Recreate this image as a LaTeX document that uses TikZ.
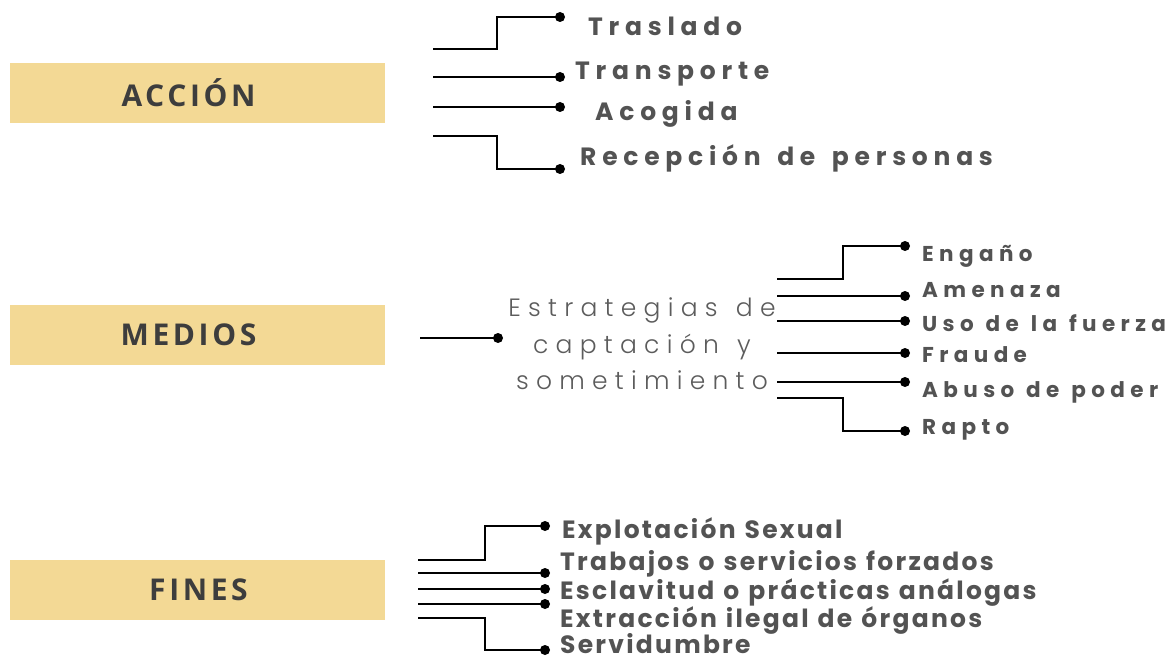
\documentclass[tikz,border=0pt]{standalone}
\usepackage{fontspec}
\setmainfont{Open Sans}
\newfontfamily\hdrfont[LetterSpace=12]{Open Sans}
\newfontfamily\itAfont[LetterSpace=23,WordSpace=1.5]{Poppins}
\newfontfamily\itBfont[LetterSpace=25,WordSpace=1.2]{Poppins}
\newfontfamily\itCfont[LetterSpace=9,WordSpace=1.2]{Poppins}
\newfontfamily\thinfont[LetterSpace=29,WordSpace=1.3]{Poppins Light}
\definecolor{boxc}{HTML}{F3D995}
\definecolor{hdrc}{HTML}{3D3D3D}
\definecolor{itc}{HTML}{535353}
\definecolor{thinc}{HTML}{5C5C5C}
\tikzset{
  hdrbox/.style={fill=boxc, minimum width=375pt, minimum height=60pt, inner sep=0pt},
  hdrtext/.style={inner sep=0pt, text=hdrc, font=\hdrfont\bfseries\fontsize{30}{36}\selectfont},
  dotnode/.style={circle, fill=black, minimum size=10pt, inner sep=0pt},
  conn/.style={line width=2.2pt, black},
  itemA/.style={anchor=base west, inner sep=0pt, text=itc, font=\itAfont\bfseries\fontsize{25}{30}\selectfont},
  itemB/.style={anchor=base west, inner sep=0pt, text=itc, font=\itBfont\bfseries\fontsize{21.5}{26}\selectfont},
  itemC/.style={anchor=base west, inner sep=0pt, text=itc, font=\itCfont\bfseries\fontsize{25}{30}\selectfont},
  thintext/.style={anchor=base, inner sep=0pt, text=thinc, font=\thinfont\fontsize{25}{30}\selectfont},
}
\begin{document}
\begin{tikzpicture}[x=1pt,y=-1pt]
\useasboundingbox (0,0) rectangle (1171,658);
% headers
\node[hdrbox] (accion) at (197.5,93) {};
\node[hdrbox] (medios) at (197.5,334.5) {};
\node[hdrbox] (fines) at (197.5,590) {};
\node[hdrtext] (accionT) at ([xshift=-9pt]accion.center) {ACCIÓN};
\node[hdrtext] (mediosT) at ([xshift=-9pt]medios.center) {MEDIOS};
\node[hdrtext] (finesT) at ([xshift=1pt]fines.center) {FINES};

% ACCION branch
\coordinate (a1s) at (433,49);
\coordinate (a2s) at (433,77);
\coordinate (a3s) at (433,107);
\coordinate (a4s) at (433,136);
\node[dotnode] (a1) at (560,17) {};
\node[dotnode] (a2) at (560,77) {};
\node[dotnode] (a3) at (560,107) {};
\node[dotnode] (a4) at (560,169) {};
\draw[conn] (a1s) -- (497,49) |- (a1.center);
\draw[conn] (a2s) -- (a2.center);
\draw[conn] (a3s) -- (a3.center);
\draw[conn] (a4s) -- (497,136) |- (a4.center);
\node[itemA] (ta1) at (588,36) {Traslado};
\node[itemA] (ta2) at (575,80) {Transporte};
\node[itemA] (ta3) at (595,121) {Acogida};
\node[itemA] (ta4) at (580,166) {Recepción de personas};

% MEDIOS branch
\coordinate (m0s) at (420,338);
\node[dotnode] (m0) at (498,338) {};
\draw[conn] (m0s) -- (m0.center);
\node[thintext] (mt1) at (642,316) {Estrategias de};
\node[thintext] (mt2) at (642,353) {captación y};
\node[thintext] (mt3) at (642,389) {sometimiento};

\coordinate (b1s) at (777,279);
\coordinate (b2s) at (777,296);
\coordinate (b3s) at (777,321);
\coordinate (b4s) at (777,353);
\coordinate (b5s) at (777,382);
\coordinate (b6s) at (777,398);
\node[dotnode] (b1) at (905,246) {};
\node[dotnode] (b2) at (905,296) {};
\node[dotnode] (b3) at (905,321) {};
\node[dotnode] (b4) at (905,353) {};
\node[dotnode] (b5) at (905,382) {};
\node[dotnode] (b6) at (905,431) {};
\draw[conn] (b1s) -- (843,279) |- (b1.center);
\draw[conn] (b2s) -- (b2.center);
\draw[conn] (b3s) -- (b3.center);
\draw[conn] (b4s) -- (b4.center);
\draw[conn] (b5s) -- (b5.center);
\draw[conn] (b6s) -- (843,398) |- (b6.center);
\node[itemB] (tb1) at (922,261) {Engaño};
\node[itemB] (tb2) at (922,297) {Amenaza};
\node[itemB] (tb3) at (922,331) {Uso de la fuerza};
\node[itemB] (tb4) at (922,362) {Fraude};
\node[itemB] (tb5) at (922,397) {Abuso de poder};
\node[itemB] (tb6) at (922,434) {Rapto};

% FINES branch
\coordinate (c1s) at (418,560);
\coordinate (c2s) at (418,573);
\coordinate (c3s) at (418,589);
\coordinate (c4s) at (418,604);
\coordinate (c5s) at (418,618);
\node[dotnode] (c1) at (545,526) {};
\node[dotnode] (c2) at (545,573) {};
\node[dotnode] (c3) at (545,589) {};
\node[dotnode] (c4) at (545,604) {};
\node[dotnode] (c5) at (545,650) {};
\draw[conn] (c1s) -- (485,560) |- (c1.center);
\draw[conn] (c2s) -- (c2.center);
\draw[conn] (c3s) -- (c3.center);
\draw[conn] (c4s) -- (c4.center);
\draw[conn] (c5s) -- (485,618) |- (c5.center);
\node[itemC] (tc1) at (562,538) {Explotación Sexual};
\node[itemC] (tc2) at (560,570) {Trabajos o servicios forzados};
\node[itemC] (tc3) at (560,599) {Esclavitud o prácticas análogas};
\node[itemC] (tc4) at (560,627) {Extracción ilegal de órganos};
\node[itemC] (tc5) at (560,653) {Servidumbre};
\end{tikzpicture}
\end{document}
